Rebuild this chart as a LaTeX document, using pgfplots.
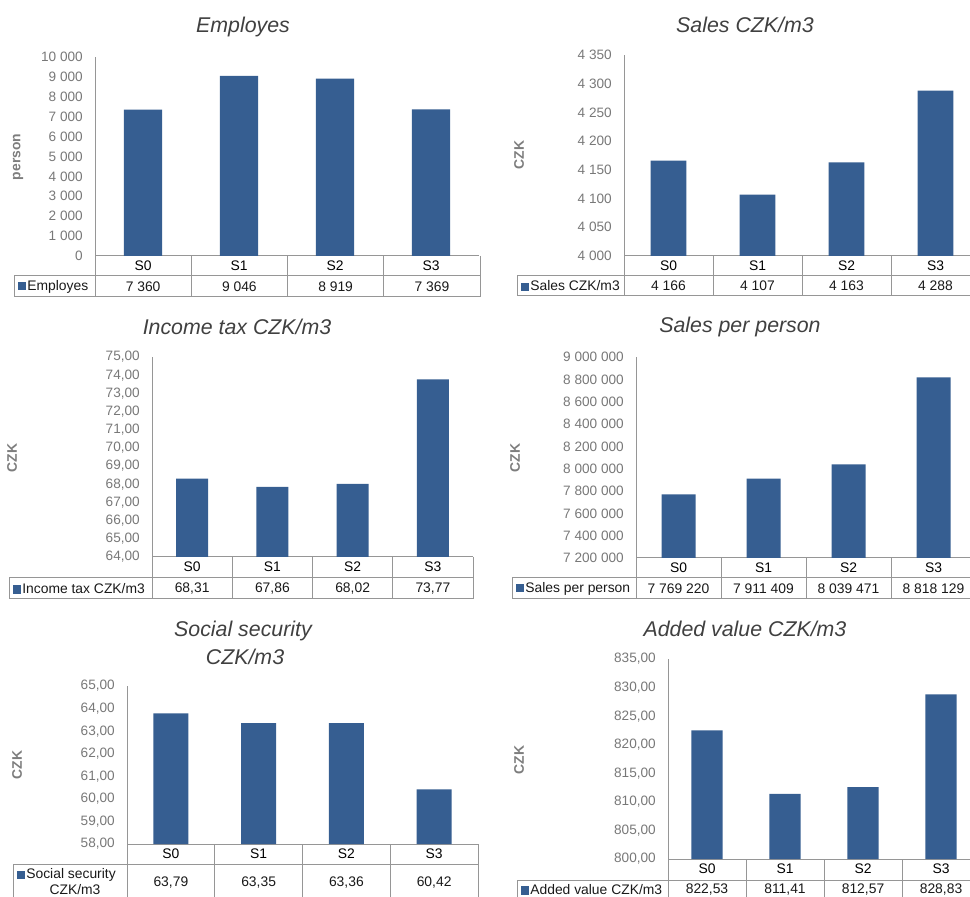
\documentclass[border=0pt]{standalone}
\usepackage{pgfplots}
\pgfplotsset{compat=1.18}
\usepackage{fontspec}
\setmainfont{Liberation Sans}
\definecolor{barblue}{RGB}{54,94,145}
\definecolor{tickgray}{RGB}{120,120,120}
\definecolor{linegray}{RGB}{150,150,150}
\definecolor{titlegray}{RGB}{64,64,64}
\definecolor{labgray}{RGB}{125,125,125}

\pgfplotsset{
  panel/.style={
    scale only axis, anchor=south west,
    xmin=-0.5, xmax=3.5,
    axis x line*=bottom, axis y line*=left,
    axis line style={draw=linegray, line width=0.75pt, -},
    xtick={0,1,2,3}, xticklabels={S0,S1,S2,S3},
    major tick length=0pt,
    tick style={draw=none},
    scaled y ticks=false,
    xticklabel style={anchor=center, yshift=-7.5pt, font=\fontsize{10.4}{12}\selectfont, text=black},
    yticklabel style={anchor=east, inner sep=0pt, xshift=-9pt, font=\fontsize{10.2}{12}\selectfont, text=tickgray},
    ybar, bar width=0.4,
  },
}
\tikzset{
  valfont/.style={font=\fontsize{10.4}{12.5}\selectfont, text=black!90},
  ttl/.style={font=\fontsize{16}{19}\selectfont\itshape, text=titlegray},
  ylab/.style={font=\fontsize{10.4}{12}\selectfont\bfseries, text=labgray, rotate=90},
}
% ax bx by r1 r2 lx  (pixel units, screen y downward)
\newcommand{\tablegrid}[6]{%
  \draw[linegray, line width=0.75pt]
    (#6,{896-#4}) -- (#2,{896-#4})
    (#6,{896-#5}) -- (#2,{896-#5})
    (#6,{896-#4}) -- (#6,{896-#5});
  \foreach \k in {0,1,2,3,4}{%
    \draw[linegray, line width=0.75pt] ({#1+\k*(#2-#1)/4},{896-#3}) -- ({#1+\k*(#2-#1)/4},{896-#5});
  }%
}
% ax bx ymid v0 v1 v2 v3
\newcommand{\tablevals}[7]{%
  \node[valfont] at ({#1+0.125*(#2-#1)},{896-#3}) {#4};
  \node[valfont] at ({#1+0.375*(#2-#1)},{896-#3}) {#5};
  \node[valfont] at ({#1+0.625*(#2-#1)},{896-#3}) {#6};
  \node[valfont] at ({#1+0.875*(#2-#1)},{896-#3}) {#7};
}
% lx ymid text
\newcommand{\legcell}[3]{%
  \node[anchor=west, inner sep=0pt, valfont] at ({#1+4},{896-#2}) {\textcolor{barblue}{\rule[-0.3pt]{6pt}{6.3pt}}\hspace{0.8pt}#3};
}

\begin{document}
\begin{tikzpicture}[x=0.75pt, y=0.75pt]
\useasboundingbox (0,0) rectangle (970,896);
\clip (0,0) rectangle (970,896);

% ---------- Panel 1: Employes ----------
\begin{axis}[panel, at={(71.25pt,480pt)}, width=288pt, height=149.25pt,
  ymin=0, ymax=10000, ytick={0,1000,...,10000},
  yticklabels={0,1 000,2 000,3 000,4 000,5 000,6 000,7 000,8 000,9 000,10 000}]
\addplot[fill=barblue, draw=none] coordinates {(0,7360) (1,9046) (2,8919) (3,7369)};
\end{axis}
\node[ttl] at (243,{896-27}) {Employes};
\node[ylab] at (18,{896-157}) {person};
\tablegrid{95}{480}{256}{276}{297}{14}
\tablevals{95}{480}{286.5}{7 360}{9 046}{8 919}{7 369}
\legcell{14}{286.5}{Employes}

% ---------- Panel 2: Sales CZK/m3 ----------
\begin{axis}[panel, at={(468pt,480pt)}, width=267pt, height=150.75pt,
  ymin=4000, ymax=4350, ytick={4000,4050,...,4350},
  yticklabels={4 000,4 050,4 100,4 150,4 200,4 250,4 300,4 350}]
\addplot[fill=barblue, draw=none] coordinates {(0,4166) (1,4107) (2,4163) (3,4288)};
\end{axis}
\node[ttl] at (745,{896-25}) {Sales CZK/m3};
\node[ylab] at (519,{896-155}) {CZK};
\tablegrid{624}{980}{256}{276}{296}{517}
\tablevals{624}{980}{286}{4 166}{4 107}{4 163}{4 288}
\legcell{517}{286}{Sales CZK/m3}

% ---------- Panel 3: Income tax CZK/m3 ----------
\begin{axis}[panel, at={(114pt,254.25pt)}, width=240.75pt, height=150pt,
  ymin=64, ymax=75, ytick={64,65,...,75},
  yticklabels={{64,00},{65,00},{66,00},{67,00},{68,00},{69,00},{70,00},{71,00},{72,00},{73,00},{74,00},{75,00}}]
\addplot[fill=barblue, draw=none] coordinates {(0,68.31) (1,67.86) (2,68.02) (3,73.77)};
\end{axis}
\node[ttl] at (237,{896-327}) {Income tax CZK/m3};
\node[ylab] at (12,{896-458}) {CZK};
\tablegrid{152}{473}{557}{578}{599}{9}
\tablevals{152}{473}{588.5}{68,31}{67,86}{68,02}{73,77}
\legcell{9}{588.5}{Income tax CZK/m3}

% ---------- Panel 4: Sales per person ----------
\begin{axis}[panel, at={(477pt,253.5pt)}, width=255pt, height=150.75pt,
  ymin=7200000, ymax=9000000, ytick={7200000,7400000,7600000,7800000,8000000,8200000,8400000,8600000,8800000,9000000},
  yticklabels={7 200 000,7 400 000,7 600 000,7 800 000,8 000 000,8 200 000,8 400 000,8 600 000,8 800 000,9 000 000}]
\addplot[fill=barblue, draw=none] coordinates {(0,7769220) (1,7911409) (2,8039471) (3,8818129)};
\end{axis}
\node[ttl] at (740,{896-327}) {Sales per person};
\node[ylab] at (515,{896-458}) {CZK};
\tablegrid{636}{976}{558}{578}{599}{512}
\tablevals{636}{976}{588.5}{7 769 220}{7 911 409}{8 039 471}{8 818 129}
\legcell{512}{588.5}{Sales per person}

% ---------- Panel 5: Social security CZK/m3 ----------
\begin{axis}[panel, at={(95.25pt,39pt)}, width=263.25pt, height=118.5pt,
  ymin=58, ymax=65, ytick={58,59,...,65},
  yticklabels={{58,00},{59,00},{60,00},{61,00},{62,00},{63,00},{64,00},{65,00}}]
\addplot[fill=barblue, draw=none] coordinates {(0,63.79) (1,63.35) (2,63.36) (3,60.42)};
\end{axis}
\node[ttl] at (243,{896-631}) {Social security};
\node[ttl] at (245,{896-657}) {CZK/m3};
\node[ylab] at (17,{896-765}) {CZK};
\tablegrid{127}{478}{844}{864}{910}{13}
\tablevals{127}{478}{883}{63,79}{63,35}{63,36}{60,42}
\legcell{13}{875}{Social security}
\node[valfont] at (75,{896-889.5}) {CZK/m3};

% ---------- Panel 6: Added value CZK/m3 ----------
\begin{axis}[panel, at={(501pt,27.75pt)}, width=234pt, height=150pt,
  ymin=800, ymax=835, ytick={800,805,...,835},
  yticklabels={{800,00},{805,00},{810,00},{815,00},{820,00},{825,00},{830,00},{835,00}}]
\addplot[fill=barblue, draw=none] coordinates {(0,822.53) (1,811.41) (2,812.57) (3,828.83)};
\end{axis}
\node[ttl] at (745,{896-629}) {Added value CZK/m3};
\node[ylab] at (519,{896-760}) {CZK};
\tablegrid{668}{980}{859}{880}{910}{517}
\tablevals{668}{980}{889.5}{822,53}{811,41}{812,57}{828,83}
\legcell{517}{889.5}{Added value CZK/m3}

\end{tikzpicture}
\end{document}
